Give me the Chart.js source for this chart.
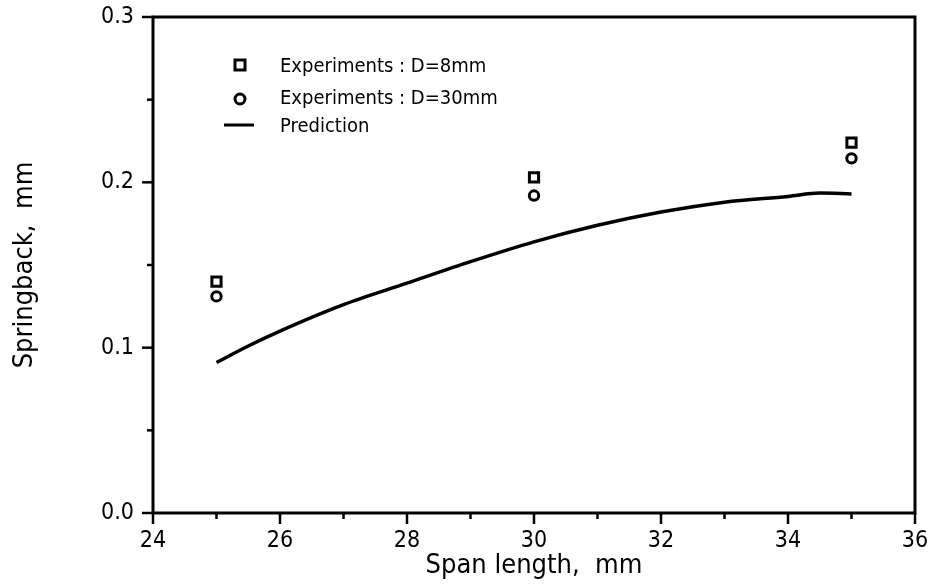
<!DOCTYPE html>
<html><head><meta charset="utf-8">
<script src="https://cdn.jsdelivr.net/npm/chart.js@4/dist/chart.umd.min.js"></script>
<style>html,body{margin:0;padding:0;background:#fff}#wrap{width:931px;height:586px}</style>
</head><body><div id="wrap"><canvas id="c" width="931" height="586"></canvas></div>
<script>
const spanExp = [25, 30, 35];
const springD8 = [0.140, 0.203, 0.224];
const springD30 = [0.131, 0.192, 0.2145];
const spanPred = [25, 25.5, 26, 27, 28, 29, 30, 31, 32, 33, 34, 34.5, 35];
const springPred = [0.091, 0.101, 0.110, 0.126, 0.139, 0.152, 0.164, 0.174, 0.182, 0.188, 0.1915, 0.1935, 0.193];
const xTicks = [24, 26, 28, 30, 32, 34, 36];
const yTicks = [0.0, 0.1, 0.2, 0.3];
const labels = ['Experiments : D=8mm', 'Experiments : D=30mm', 'Prediction'];

const FONT = '"DejaVu Sans Condensed", "DejaVu Sans", sans-serif';
const pts = (xs, ys) => xs.map((x, i) => ({x, y: ys[i]}));

const framePlugin = {
  id: 'frame',
  afterDraw(chart) {
    const ctx = chart.ctx, a = chart.chartArea;
    const xs = chart.scales.x, ys = chart.scales.y;
    ctx.save();
    ctx.strokeStyle = '#000';
    ctx.lineWidth = 3;
    ctx.strokeRect(a.left, a.top, a.right - a.left, a.bottom - a.top);
    ctx.lineWidth = 2.5;
    for (let v = 24; v <= 36; v += 1) {
      const p = xs.getPixelForValue(v);
      const major = v % 2 === 0;
      ctx.beginPath();
      ctx.moveTo(p, a.bottom);
      ctx.lineTo(p, a.bottom + (major ? 11 : 6));
      ctx.stroke();
    }
    for (let k = 0; k <= 6; k++) {
      const p = ys.getPixelForValue(k * 0.05);
      const major = k % 2 === 0;
      ctx.beginPath();
      ctx.moveTo(a.left - (major ? 11 : 6), p);
      ctx.lineTo(a.left, p);
      ctx.stroke();
    }
    const lx = 240, my = [65, 99, 125], ty = [67, 99, 127];
    ctx.font = '20px ' + FONT;
    ctx.fillStyle = '#000';
    ctx.textBaseline = 'middle';
    ctx.textAlign = 'left';
    labels.forEach((t, i) => ctx.fillText(t, 280, ty[i]));
    ctx.lineWidth = 3;
    ctx.strokeRect(lx - 5, my[0] - 5, 10, 10);
    ctx.beginPath(); ctx.arc(lx, my[1], 5, 0, Math.PI * 2); ctx.stroke();
    ctx.beginPath(); ctx.moveTo(lx - 16, my[2]); ctx.lineTo(lx + 14, my[2]); ctx.stroke();
    ctx.restore();
  }
};

new Chart(document.getElementById('c'), {
  type: 'scatter',
  data: {
    datasets: [
      {label: labels[0], data: pts(spanExp, springD8), pointStyle: 'rect', pointRadius: 6.5, pointBorderWidth: 3,
       borderColor: '#000', backgroundColor: '#fff', showLine: false},
      {label: labels[1], data: pts(spanExp, springD30), pointStyle: 'circle', pointRadius: 4.7, pointBorderWidth: 3,
       borderColor: '#000', backgroundColor: '#fff', showLine: false},
      {label: labels[2], data: pts(spanPred, springPred), showLine: true, pointRadius: 0, borderWidth: 3.5,
       borderColor: '#000', tension: 0.4, cubicInterpolationMode: 'monotone'}
    ]
  },
  options: {
    responsive: false,
    animation: false,
    layout: {padding: {top: 17, right: 16, left: 0, bottom: 0}},
    plugins: {legend: {display: false}, tooltip: {enabled: false}},
    scales: {
      x: {
        type: 'linear', min: 24, max: 36,
        afterBuildTicks: s => { s.ticks = xTicks.map(v => ({value: v})); },
        afterFit: s => { s.height = 73; s.paddingLeft = 0; s.paddingRight = 0; },
        grid: {display: false, drawTicks: false},
        border: {display: false},
        ticks: {color: '#000', font: {family: FONT, size: 23}, padding: 14, maxRotation: 0},
        title: {display: true, text: 'Span length,  mm', color: '#000', font: {family: FONT, size: 27}, padding: {top: 0, bottom: 4}}
      },
      y: {
        min: 0, max: 0.3,
        afterBuildTicks: s => { s.ticks = yTicks.map(v => ({value: v})); },
        afterFit: s => { s.width = 153; s.paddingTop = 0; s.paddingBottom = 0; },
        grid: {display: false, drawTicks: false},
        border: {display: false},
        ticks: {color: '#000', font: {family: FONT, size: 23}, padding: 19, callback: v => v.toFixed(1)},
        title: {display: true, text: 'Springback,  mm', color: '#000', font: {family: FONT, size: 27}, padding: {top: 9, bottom: 0}}
      }
    }
  },
  plugins: [framePlugin]
});
</script></body></html>
